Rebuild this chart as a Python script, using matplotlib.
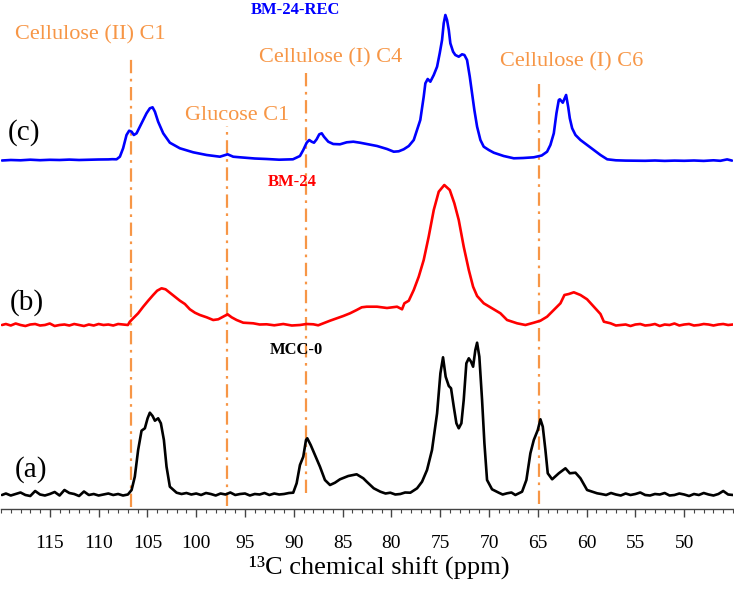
import matplotlib
matplotlib.use("Agg")
import matplotlib.pyplot as plt
import numpy as np

plt.rcParams['font.family'] = ['Liberation Serif', 'DejaVu Serif']

# ---------------- data ----------------
# each entry: (chemical shift in ppm, intensity above the trace baseline)
# (c) BM-24-REC, blue
blue_points = [
    (119.9, -0.5), (119, 0), (118, -0.3), (117, 0.3), (116, -0.2), (115, 0.2), (114, 0),
    (113, 0.4), (112, 0), (111, 0.3), (110, 0.5), (109, 0.6), (108.6, 0.8), (108.16, 0.7),
    (107.82, 3.3), (107.49, 11.7), (107.14, 25), (106.87, 29.3), (106.62, 28.3),
    (106.39, 25), (106.11, 26.7), (105.6, 36.7), (105.09, 46.7), (104.75, 51.7),
    (104.47, 52.7), (104.23, 48.3), (103.9, 38.3), (103.38, 26.7), (102.7, 17.3),
    (101.67, 11.7), (100.31, 7.7), (98.93, 5), (97.57, 3.3), (96.78, 5.7), (96.21, 3.3),
    (95.52, 2.7), (94, 1.5), (92.78, 1), (91.5, 0.3), (90.09, 0.7), (89.37, 4),
    (89.03, 10), (88.68, 17.3), (88.42, 20), (88.17, 18.3), (87.93, 17.3), (87.66, 20.7),
    (87.39, 25.7), (87.14, 26.7), (86.91, 23.3), (86.47, 18.3), (85.96, 16),
    (85.27, 15.7), (84.58, 17.7), (83.9, 18.3), (83.22, 17.3), (82.53, 16), (81.47, 14),
    (80.45, 11), (79.76, 8.3), (79.25, 8.7), (78.74, 10.7), (78.22, 14), (77.71, 20),
    (77.37, 30), (77.04, 40), (76.69, 63.3), (76.52, 76.7), (76.28, 81), (76.01, 78.3),
    (75.66, 85), (75.32, 93.3), (75.05, 106.7), (74.81, 120), (74.64, 136.7),
    (74.47, 145), (74.3, 140), (74.12, 130), (73.96, 116.7), (73.68, 108.3),
    (73.45, 105), (73.1, 103.3), (72.76, 105.7), (72.52, 105), (72.25, 100),
    (71.97, 83.3), (71.74, 66.7), (71.5, 50), (71.22, 33.3), (70.88, 20), (70.54, 13.3),
    (70.02, 10), (69.51, 7.3), (68.5, 4), (67.46, 1.7), (66.5, 2), (65.41, 2.7),
    (64.6, 4.5), (64.05, 8.3), (63.71, 15), (63.36, 26.7), (63.09, 46.7), (62.85, 60),
    (62.74, 60.7), (62.44, 57.3), (62.1, 65), (61.89, 53.3), (61.72, 41.7),
    (61.48, 31.7), (61.14, 25), (60.63, 20), (59.95, 15), (59.26, 10), (58.58, 5),
    (57.89, 0.7), (57, -0.3), (56, -0.6), (55, -0.7), (54, -0.8), (53, -0.5), (52, -0.9),
    (51, -0.6), (50, -0.8), (49, -0.5), (48, -0.9), (47, -0.3), (46.3, -0.8),
    (45.6, 0.6), (45.1, -0.6),
]

# (b) BM-24, red
red_points = [
    (119.9, 0), (119.5, 1), (119, -0.5), (118.5, 1.5), (118, 0), (117.5, -1), (117, 0.5),
    (116.5, 1), (116, -0.5), (115.5, 0), (115, 1.5), (114.5, -1), (114, 0), (113.5, 0.5),
    (113, -0.5), (112.5, 1), (112, 0), (111.5, -1), (111, 0.5), (110.5, -0.5), (110, 1),
    (109.5, 0), (109, 0.5), (108.5, -0.5), (108, 1), (107.5, 0.5), (107.0, 0),
    (106.8, 3.3), (106.46, 6.7), (105.95, 11.7), (105.43, 18.3), (104.92, 24.3),
    (104.41, 30), (104.0, 34.3), (103.55, 36.7), (103.14, 35.7), (102.7, 32.3),
    (102.18, 28.3), (101.67, 24.3), (101.16, 21), (100.65, 15.7), (100.13, 12.3),
    (99.62, 10), (98.93, 7.7), (98.26, 5), (97.74, 5.7), (97.23, 8.3), (96.78, 10.7),
    (96.37, 7.7), (95.86, 5), (95.18, 2.3), (94.16, 1.7), (93.5, 0.5), (92.78, 0.7),
    (92, -0.3), (91.08, 1), (90.2, -0.5), (89.37, 0), (88.7, 1), (88.0, 0.7),
    (87.5, -0.3), (86.98, 1.7), (86.29, 4.3), (85.61, 6.7), (84.93, 9), (84.24, 11.7),
    (83.56, 15), (83.04, 17.7), (82.53, 18.3), (81.47, 18.3), (80.45, 17), (79.42, 18.3),
    (78.91, 15.7), (78.67, 21.7), (78.22, 24.3), (77.71, 35), (77.2, 48.3), (76.69, 65),
    (76.18, 88.3), (75.66, 115), (75.15, 133.3), (74.58, 140), (74.02, 135),
    (73.55, 121.7), (73.1, 105), (72.59, 78.3), (72.07, 55), (71.63, 38.3), (71.22, 29),
    (70.54, 21.7), (69.69, 16.7), (68.83, 11.7), (68.15, 5), (67.12, 1.7), (66.27, 0),
    (65.41, 2.3), (64.73, 4.3), (64.05, 8.3), (63.36, 15), (62.68, 21.7), (62.27, 30),
    (61.82, 31), (61.31, 32.7), (60.63, 30), (59.95, 25.7), (59.26, 18.3), (58.58, 11),
    (58.23, 3.3), (57.55, 1.7), (57, -0.5), (56.53, 0), (56, 0.5), (55.5, -1), (55, 0.5),
    (54.5, 1), (54, -0.5), (53.5, 0), (53, 1), (52.5, -1), (52, 0.5), (51.5, 0),
    (51, 1.5), (50.5, -0.5), (50, 0.5), (49.5, 1), (49, -0.5), (48.5, 0), (48, 1),
    (47.5, 0.5), (47, -0.5), (46.5, 0.5), (46, 1), (45.5, 0), (45, 0.5),
]

# (a) MCC-0, black
black_points = [
    (119.9, 0), (119.5, 1.5), (119, -0.5), (118.5, 1), (118, 2.5), (117.5, 0), (117, -1),
    (116.5, 4), (116, 0.5), (115.5, -0.5), (115, 1), (114.5, 3), (114, -0.5), (113.5, 5),
    (113, 2), (112.5, 1), (112, -1), (111.5, 3.5), (111, 0), (110.5, 1), (110, -0.5),
    (109.5, 0.5), (109, 1.5), (108.5, 0), (108, 1), (107.5, -0.5), (107, 0.5),
    (106.62, 5), (106.29, 18.3), (105.95, 45), (105.6, 64.3), (105.26, 66.7),
    (104.98, 76.7), (104.75, 82.3), (104.47, 79), (104.23, 74.3), (103.9, 76.7),
    (103.62, 71.7), (103.31, 55), (103.04, 28.3), (102.7, 8.3), (102.01, 2.3),
    (101.5, 1), (101, 2), (100.5, 0.5), (100, 1.5), (99.5, 0), (99, 2), (98.5, 1),
    (98, -0.5), (97.5, 1.5), (97, 0.5), (96.5, 2.5), (96, 0), (95.5, 1), (95, 1.5),
    (94.5, -0.5), (94, 1), (93.5, 0.5), (93, 2), (92.5, 0), (92, 1.5), (91.5, 0.5),
    (91, 1), (90.5, 2), (90.06, 2.3), (89.71, 11.7), (89.37, 30), (89.03, 38.3),
    (88.75, 55), (88.62, 56.7), (88.27, 50), (87.83, 40), (87.32, 28.3), (86.81, 15),
    (86.29, 10), (85.78, 12.3), (85.27, 15.7), (84.42, 19), (83.56, 20.7),
    (82.88, 16.7), (82.53, 13.3), (81.81, 6.7), (81.13, 3.3), (80.6, 1.5), (80.11, 2.3),
    (79.6, 0.5), (79.09, 1), (78.6, 2.5), (78.06, 2.3), (77.37, 6.7), (76.86, 13.3),
    (76.35, 25), (75.84, 45), (75.32, 81.7), (74.98, 121.7), (74.71, 137.7),
    (74.44, 118.3), (74.12, 109), (73.89, 106.7), (73.61, 88.3), (73.34, 71.7),
    (73.1, 66.7), (72.83, 71.7), (72.59, 95), (72.32, 131.7), (72.07, 136.7),
    (71.84, 133.3), (71.63, 128.3), (71.4, 145), (71.22, 152.3), (70.99, 138.3),
    (70.71, 95), (70.47, 51.7), (70.2, 15), (69.69, 5.7), (69.0, 2.3), (68.6, 0.5),
    (68.15, 1.7), (67.7, 2.5), (67.3, 0), (66.61, 3.3), (66.17, 15), (65.76, 41.7),
    (65.41, 55), (65.0, 65), (64.73, 75.7), (64.49, 68.3), (64.22, 45), (63.98, 21.7),
    (63.53, 15.7), (62.85, 21.7), (62.17, 26.7), (61.72, 21.7), (61.14, 22.3),
    (60.63, 16.7), (59.95, 5), (58.92, 1.7), (58.5, 1), (58, 0), (57.5, 2), (57, 0.5),
    (56.5, -0.5), (56, 1.5), (55.5, 0), (55, 1), (54.5, 2.5), (54, 0), (53.5, -0.5),
    (53, 1), (52.5, 0.5), (52, 2), (51.5, -0.5), (51, 0), (50.5, 1.5), (50, 0.5),
    (49.5, -1), (49, 1), (48.5, 0), (48, 2), (47.5, 0.5), (47, -0.5), (46.5, 1),
    (46, 4), (45.5, 0.5), (45, 0),
]

trace_offsets = [349, 184, 14]          # baseline levels of (c), (b), (a)
trace_colors = ['#0000FF', '#FF0000', '#000000']
trace_tags = ['(c)', '(b)', '(a)']
tag_pos = [(117.67, 376), (117.39, 206), (116.95, 39)]
sample_names = ['BM-24-REC', 'BM-24', 'MCC-0']
sample_pos = [(89.88, 499.5), (90.14, 327.3), (89.78, 159)]

ref_labels = ['Cellulose (II) C1', 'Glucose C1', 'Cellulose (I) C4', 'Cellulose (I) C6']
ref_ppm = [106.7, 96.8, 88.7, 64.9]
ref_line_top = [451, 383, 441, 426]
ref_line_bottom = [2, 3, 16, 5]
ref_label_pos = [(110.85, 474), (95.83, 394), (86.19, 451), (61.53, 447)]

major_ticks = [115, 110, 105, 100, 95, 90, 85, 80, 75, 70, 65, 60, 55, 50]
tick_labels = [str(t) for t in major_ticks]

# ---------------- figure ----------------
W, H = 734, 593
fig = plt.figure(figsize=(W / 100, H / 100), dpi=100)
ax = fig.add_axes([1 / W, (H - 509) / H, 732 / W, 509 / H])

orange = '#F79646'

for ppm, top, bot in zip(ref_ppm, ref_line_top, ref_line_bottom):
    ax.plot([ppm, ppm], [bot, top], color=orange, lw=1.6,
            linestyle=(0, (6, 2.5, 1.2, 2.5)), zorder=1)

for pts, off, col in zip([blue_points, red_points, black_points],
                         trace_offsets, trace_colors):
    x = [p[0] for p in pts]
    y = [p[1] + off for p in pts]
    ax.plot(x, y, color=col, lw=1.9, zorder=3,
            solid_joinstyle='round', solid_capstyle='round')

for lab, (x, y) in zip(ref_labels, ref_label_pos):
    ax.text(x, y, lab, color=orange, fontsize=16, ha='center', va='center')

for tag, (x, y) in zip(trace_tags, tag_pos):
    ax.text(x, y, tag, color='black', fontsize=21, ha='center', va='center')

for name, (x, y), col in zip(sample_names, sample_pos, trace_colors):
    ax.text(x, y, name, color=col, fontsize=12, fontweight='bold',
            ha='center', va='center')

ax.set_xlim(120, 45)
ax.set_ylim(0, 509)
for s in ['top', 'left', 'right']:
    ax.spines[s].set_visible(False)
ax.spines['bottom'].set_color('#444444')
ax.spines['bottom'].set_linewidth(1.0)
ax.set_yticks([])
ax.set_xticks(major_ticks)
ax.set_xticklabels(tick_labels)
ax.set_xticks(np.arange(45, 121, 1), minor=True)
ax.tick_params(axis='x', which='major', direction='out', length=6, width=1.0,
               color='#444444', labelsize=14, pad=13)
ax.tick_params(axis='x', which='minor', direction='out', length=3, width=0.8,
               color='#444444')

fig.text(379.5 / W, (H - 567) / H, '¹³C chemical shift (ppm)', fontsize=19,
         ha='center', va='center')

fig.savefig('out.png', dpi=100)
